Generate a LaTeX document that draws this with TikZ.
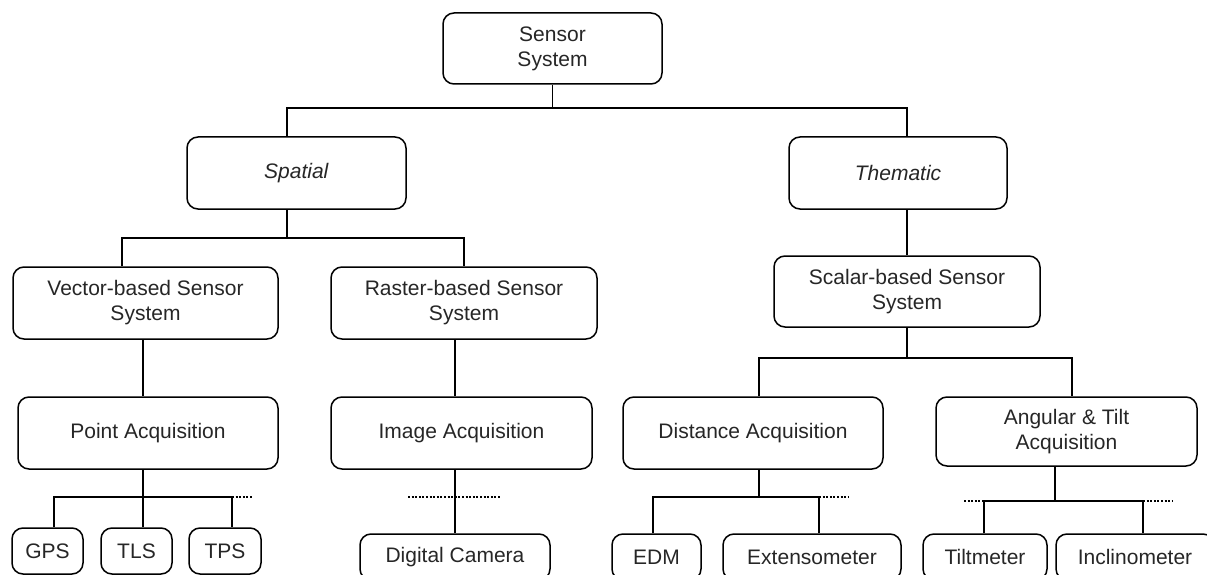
\documentclass[tikz,border=0pt]{standalone}
\usepackage{fontspec}
\setmainfont{Liberation Sans}
\usetikzlibrary{calc}
\begin{document}
\begin{tikzpicture}[x=1pt,y=-1pt,
  box/.style={draw, line width=1.5pt, rounded corners=11pt, align=center, inner sep=0pt,
    font=\fontsize{21}{25}\selectfont, text=black!85},
  sz/.style 2 args={minimum width=#1pt, minimum height=#2pt},
  conn/.style={line width=1.5pt},
  dots/.style={line width=1.2pt, dash pattern=on 2pt off 1.6pt}]
\useasboundingbox (0,0) rectangle (1207,575);
\clip (0,0) rectangle (1207,575);

% level 0
\node[box, sz={219}{71}] (sensor) at (552.5,48.5) {Sensor\\System};
% level 1
\node[box, sz={219}{72}] (spatial) at (296.5,173) {\textit{Spatial}};
\node[box, sz={218}{72}] (thematic) at (898,173) {\textit{Thematic}};
% level 2
\node[box, sz={265}{72}] (vector) at (145.5,303) {Vector-based Sensor\\System};
\node[box, sz={266}{72}] (raster) at (464,303) {Raster-based Sensor\\System};
\node[box, sz={266}{71}] (scalar) at (907,291.5) {Scalar-based Sensor\\System};
% level 3
\node[box, sz={260}{72}] (point) at (148,433) {Point Acquisition};
\node[box, sz={261}{72}] (image) at (461.5,433) {Image Acquisition};
\node[box, sz={260}{72}] (distance) at (753,433) {Distance Acquisition};
\node[box, sz={261}{69}] (angular) at (1066.5,431.5) {Angular \& Tilt\\Acquisition};
% level 4
\node[box, sz={71}{46}] (gps) at (47.5,551) {GPS};
\node[box, sz={71}{46}] (tls) at (136.5,551) {TLS};
\node[box, sz={72}{46}] (tps) at (225,551) {TPS};
\node[box, sz={190}{46}] (camera) at (455,557) {Digital Camera};
\node[box, sz={89}{46}] (edm) at (656.5,557) {EDM};
\node[box, sz={178}{46}] (exten) at (812,557) {Extensometer};
\node[box, sz={124}{46}] (tilt) at (985,557) {Tiltmeter};
\node[box, sz={158}{46}] (incl) at (1135,557) {Inclinometer};

% sensor -> spatial, thematic
\coordinate (s1) at (287,108);
\coordinate (s2) at (907,108);
\draw[conn] (sensor.south) -- (sensor.south |- s1);
\draw[conn] (s1 |- spatial.north) -- (s1) -- (s2) -- (s2 |- thematic.north);

% spatial -> vector, raster
\coordinate (p0) at (287,238);
\coordinate (p1) at (122,238);
\coordinate (p2) at (464,238);
\draw[conn] (p0 |- spatial.south) -- (p0);
\draw[conn] (p1 |- vector.north) -- (p1) -- (p2) -- (p2 |- raster.north);

% thematic -> scalar
\draw[conn] (thematic.south -| s2) -- (scalar.north -| s2);

% vector -> point, raster -> image
\coordinate (v1) at (143,0);
\coordinate (v2) at (455,0);
\draw[conn] (v1 |- vector.south) -- (v1 |- point.north);
\draw[conn] (v2 |- raster.south) -- (v2 |- image.north);

% scalar -> distance, angular
\coordinate (c0) at (907,358);
\coordinate (c1) at (759,358);
\coordinate (c2) at (1072,358);
\draw[conn] (c0 |- scalar.south) -- (c0);
\draw[conn] (c1 |- distance.north) -- (c1) -- (c2) -- (c2 |- angular.north);

% point -> gps, tls, tps
\coordinate (g1) at (54,497);
\coordinate (g2) at (143,497);
\coordinate (g3) at (232,497);
\coordinate (g4) at (252,497);
\draw[conn] (g2 |- point.south) -- (g2) -- (g2 |- tls.north);
\draw[conn] (g1 |- gps.north) -- (g1) -- (g3) -- (g3 |- tps.north);
\draw[dots] (g3) -- (g4);

% image -> camera
\coordinate (i1) at (408,497);
\coordinate (i2) at (501,497);
\draw[conn] (v2 |- image.south) -- (v2 |- camera.north);
\draw[dots] (i1) -- (i2);

% distance -> edm, extensometer
\coordinate (d1) at (653,497);
\coordinate (d2) at (819,497);
\coordinate (d3) at (848,497);
\draw[conn] (c1 |- distance.south) -- (c1 |- d1);
\draw[conn] (d1 |- edm.north) -- (d1) -- (d2) -- (d2 |- exten.north);
\draw[dots] (d2) -- (d3);

% angular -> tilt, incl
\coordinate (a0) at (1055,501);
\coordinate (a1) at (984,501);
\coordinate (a2) at (1143,501);
\coordinate (a3) at (964,501);
\coordinate (a4) at (1173,501);
\draw[conn] (a0 |- angular.south) -- (a0);
\draw[conn] (a1 |- tilt.north) -- (a1) -- (a2) -- (a2 |- incl.north);
\draw[dots] (a3) -- (a1);
\draw[dots] (a2) -- (a4);
\end{tikzpicture}
\end{document}
